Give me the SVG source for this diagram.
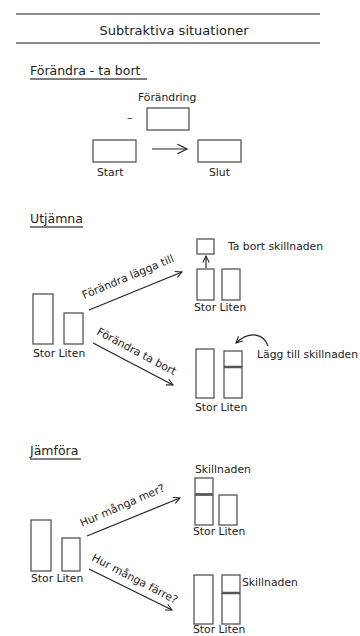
<svg xmlns="http://www.w3.org/2000/svg" width="360" height="636" viewBox="0 0 360 636">
<defs>
<style>
text{font-family:"DejaVu Sans",Verdana,sans-serif;fill:#222;font-size:10.8px}
.title{font-size:13px}
.head{font-size:12.5px}
.box{fill:#fff;stroke:#555;stroke-width:1.3}
.rule{stroke:#666;stroke-width:1.6}
.ul{stroke:#555;stroke-width:1.5}
.conn{fill:none;stroke:#222;stroke-width:1.2}
.sep{stroke:#555;stroke-width:2.2}
</style>
<marker id="ah" viewBox="0 0 10 10" refX="9" refY="5" markerWidth="8" markerHeight="8" markerUnits="userSpaceOnUse" orient="auto">
<path d="M1,1 L9,5 L1,9" fill="none" stroke="#222" stroke-width="1.3"/>
</marker>
<marker id="ahb" viewBox="0 0 10 10" refX="9" refY="5" markerWidth="12" markerHeight="12" markerUnits="userSpaceOnUse" orient="auto">
<path d="M1,1 L9,5 L1,9" fill="none" stroke="#222" stroke-width="1"/>
</marker>
</defs>
<rect width="360" height="636" fill="#fff"/>

<g id="header">
<line class="rule" x1="16" y1="14" x2="320" y2="14"/>
<text class="title" x="174" y="35" text-anchor="middle">Subtraktiva situationer</text>
<line class="rule" x1="16" y1="43" x2="320" y2="43"/>
</g>

<g id="sec1-title">
<text class="head" x="30" y="75">Förändra - ta bort </text>
<line class="ul" x1="30" y1="79" x2="147" y2="79"/>
</g>
<g id="forandring">
<text x="138" y="101">Förändring</text>
<text x="127" y="121">–</text>
<rect class="box" x="147" y="108" width="42" height="22"/>
</g>
<g id="start">
<rect class="box" x="93" y="140" width="43" height="22"/>
<text x="97" y="176">Start</text>
</g>
<g id="slut">
<rect class="box" x="198" y="140" width="43" height="22"/>
<text x="209" y="176">Slut</text>
</g>

<g id="sec2-title">
<text class="head" x="30" y="223">Utjämna</text>
<line class="ul" x1="30" y1="227" x2="83" y2="227"/>
</g>
<g id="utj-left">
<rect class="box" x="33" y="294" width="20" height="50"/>
<rect class="box" x="64" y="313" width="19" height="31"/>
<text x="33" y="357">Stor Liten</text>
</g>
<g id="utj-top">
<rect class="box" x="197" y="239" width="17" height="15"/>
<text x="228" y="250">Ta bort skillnaden</text>
<rect class="box" x="197" y="269" width="17" height="31"/>
<rect class="box" x="222" y="269" width="18" height="31"/>
<text x="194" y="311">Stor Liten</text>
</g>
<g id="utj-bottom">
<rect class="box" x="196" y="349" width="18" height="49"/>
<rect class="box" x="224" y="351" width="18" height="15.5"/>
<rect class="box" x="224" y="367.5" width="18" height="30.5"/>
<line class="sep" x1="224" y1="367" x2="242" y2="367"/>
<text x="257" y="358">Lägg till skillnaden</text>
<text x="195" y="411">Stor Liten</text>
</g>

<g id="sec3-title">
<text class="head" x="30" y="455">Jämföra</text>
<line class="ul" x1="30" y1="459" x2="81" y2="459"/>
</g>
<g id="jmf-left">
<rect class="box" x="31" y="520" width="20" height="51"/>
<rect class="box" x="62" y="538" width="18" height="33"/>
<text x="31" y="582">Stor Liten</text>
</g>
<g id="jmf-top">
<text x="195" y="473">Skillnaden</text>
<rect class="box" x="195" y="478" width="18" height="16"/>
<rect class="box" x="195" y="495" width="18" height="30"/>
<line class="sep" x1="195" y1="494.5" x2="213" y2="494.5"/>
<rect class="box" x="219" y="495" width="18" height="30"/>
<text x="193" y="535">Stor Liten</text>
</g>
<g id="jmf-bottom">
<rect class="box" x="194" y="575" width="19" height="49"/>
<rect class="box" x="222" y="575" width="18" height="17.5"/>
<rect class="box" x="222" y="593.5" width="18" height="30.5"/>
<line class="sep" x1="222" y1="593" x2="240" y2="593"/>
<text x="242" y="586">Skillnaden</text>
<text x="193" y="633">Stor Liten</text>
</g>

<g id="connectors">
<line class="conn" x1="152" y1="149" x2="187" y2="149" marker-end="url(#ahb)"/>
<line class="conn" x1="89" y1="310" x2="182" y2="272" marker-end="url(#ah)"/>
<text x="84" y="299" transform="rotate(-22.5 84 299)">Förändra lägga till</text>
<line class="conn" x1="93" y1="343" x2="173" y2="385" marker-end="url(#ah)"/>
<text x="96" y="334" transform="rotate(28 96 334)">Förändra ta bort</text>
<line class="conn" x1="206" y1="268" x2="206" y2="256" marker-end="url(#ah)"/>
<path class="conn" d="M268,346 C264,334 250,330 236,343" marker-end="url(#ah)"/>
<line class="conn" x1="87" y1="536" x2="180" y2="498" marker-end="url(#ah)"/>
<text x="82" y="527" transform="rotate(-23.5 82 527)">Hur många mer?</text>
<line class="conn" x1="89" y1="569" x2="172" y2="610" marker-end="url(#ah)"/>
<text x="91" y="560" transform="rotate(27.5 91 560)">Hur många färre?</text>
</g>
</svg>
